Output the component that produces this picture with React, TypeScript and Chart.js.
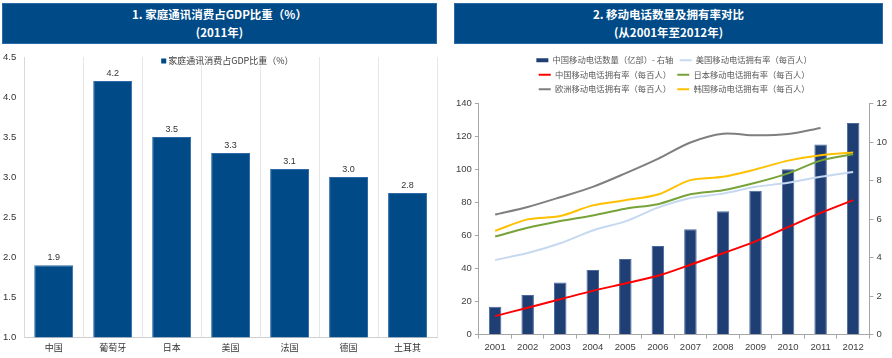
import React, { useEffect, useRef } from "react";
import { Chart, registerables } from "chart.js";

Chart.register(...registerables);

// ---------- Data: chart 1 ----------
const countries = ["中国", "葡萄牙", "日本", "美国", "法国", "德国", "土耳其"];
const commShare = [1.9, 4.2, 3.5, 3.3, 3.1, 3.0, 2.8];
const leftTicks = [1.0, 1.5, 2.0, 2.5, 3.0, 3.5, 4.0, 4.5];
const leftLegend = "家庭通讯消费占GDP比重（%）";

// ---------- Data: chart 2 ----------
const years = ["2001", "2002", "2003", "2004", "2005", "2006", "2007", "2008", "2009", "2010", "2011", "2012"];
const chinaPhones = [1.44, 2.05, 2.7, 3.35, 3.93, 4.6, 5.47, 6.41, 7.47, 8.59, 9.87, 10.99];
const usRate = [45.2, 49.4, 55.3, 63.1, 68.6, 76.9, 82.8, 85.4, 89.5, 92.0, 95.6, 98.5];
const chinaRate = [11.2, 16.3, 21.4, 26.5, 31.0, 35.6, 42.3, 49.3, 56.5, 65.1, 73.7, 81.5];
const japanRate = [59.4, 64.7, 68.8, 72.2, 76.3, 79.0, 85.0, 87.5, 92.0, 97.7, 105.4, 109.3];
const europeRate = [72.7, 77.3, 83.2, 89.5, 97.7, 106.5, 116.4, 121.7, 120.7, 121.5, 125.2, null];
const koreaRate = [62.9, 69.8, 71.8, 78.3, 81.4, 84.9, 93.6, 95.6, 100.1, 105.4, 108.7, 110.3];
const seriesNames = [
  "中国移动电话数量（亿部）- 右轴",
  "美国移动电话拥有率（每百人）",
  "中国移动电话拥有率（每百人）",
  "日本移动电话拥有率（每百人）",
  "欧洲移动电话拥有率（每百人）",
  "韩国移动电话拥有率（每百人）",
];
const leftAxisMax = 140;
const rightAxisMax = 12;

const BLUE = "#004A87";
const NAVY = "#1F3F74";
const CJK = '"Noto Sans CJK SC", "Noto Sans", sans-serif';
const NUM = '"Liberation Sans", Arial, sans-serif';
const NARROW = '"Liberation Sans Narrow", "Arial Narrow", "Liberation Sans", sans-serif';
const seriesColors = [NAVY, "#C6D9F1", "#FF0000", "#77A33A", "#7F7F7F", "#FFC000"];

function LeftChart() {
  const ref = useRef<HTMLCanvasElement>(null);
  useEffect(() => {
    const valueLabels = {
      id: "valueLabels",
      afterDatasetsDraw(chart: any) {
        const ctx = chart.ctx;
        const meta = chart.getDatasetMeta(0);
        ctx.save();
        ctx.font = `9px ${NUM}`;
        ctx.fillStyle = "#333";
        ctx.textAlign = "center";
        ctx.textBaseline = "bottom";
        meta.data.forEach((el: any, i: number) => {
          ctx.fillText(commShare[i].toFixed(1), el.x, el.y - 3);
        });
        ctx.restore();
      },
    };
    const innerLegend = {
      id: "innerLegend",
      afterDraw(chart: any) {
        const ctx = chart.ctx;
        const a = chart.chartArea;
        const x = a.left + 137;
        const y = a.top + 4;
        ctx.save();
        ctx.fillStyle = BLUE;
        ctx.fillRect(x, y - 2.5, 5, 5);
        ctx.font = `9px ${CJK}`;
        ctx.fillStyle = "#404040";
        ctx.textAlign = "left";
        ctx.textBaseline = "middle";
        ctx.fillText(leftLegend, x + 7, y);
        ctx.restore();
      },
    };
    const chart = new Chart(ref.current!, {
      type: "bar",
      data: {
        labels: countries,
        datasets: [
          {
            label: leftLegend,
            data: commShare,
            backgroundColor: BLUE,
            borderColor: "#2F6AA6",
            borderWidth: 1,
            categoryPercentage: 1,
            barPercentage: 0.66,
          },
        ],
      },
      options: {
        responsive: false,
        animation: false,
        layout: { padding: { top: 0, right: 9, left: -5, bottom: 0 } },
        plugins: { legend: { display: false }, tooltip: { enabled: false } },
        scales: {
          x: {
            grid: { display: true, offset: true, drawTicks: false, color: "#E6E6E6" },
            border: { display: true, color: "#D0D0D0" },
            ticks: { font: { family: CJK, size: 9 }, color: "#333", padding: 5 },
          },
          y: {
            min: leftTicks[0],
            max: leftTicks[leftTicks.length - 1],
            afterBuildTicks: (s: any) => {
              s.ticks = leftTicks.map((v) => ({ value: v }));
            },
            afterFit: (s: any) => {
              s.paddingTop = 9;
            },
            ticks: {
              callback: (v: any) => Number(v).toFixed(1),
              font: { family: NUM, size: 9.5 },
              color: "#333",
              padding: 8,
            },
            grid: { display: false, drawTicks: false },
            border: { display: true, color: "#D9D9D9" },
          },
        },
      },
      plugins: [valueLabels, innerLegend],
    });
    return () => chart.destroy();
  }, []);
  return <canvas ref={ref} width={446} height={310} />;
}

function RightChart() {
  const ref = useRef<HTMLCanvasElement>(null);
  useEffect(() => {
    const lineDs = (i: number, data: (number | null)[]) => ({
      type: "line" as const,
      label: seriesNames[i],
      data,
      borderColor: seriesColors[i],
      backgroundColor: seriesColors[i],
      borderWidth: 2,
      pointRadius: 0,
      tension: 0.3,
      yAxisID: "y",
      order: 0,
      spanGaps: false,
    });
    const chart = new Chart(ref.current!, {
      type: "bar",
      data: {
        labels: years,
        datasets: [
          {
            type: "bar",
            label: seriesNames[0],
            data: chinaPhones,
            backgroundColor: NAVY,
            borderColor: "#4A6A9E",
            borderWidth: 1,
            yAxisID: "y1",
            order: 1,
            categoryPercentage: 0.8,
            barPercentage: 0.48,
          } as any,
          lineDs(1, usRate),
          lineDs(2, chinaRate),
          lineDs(3, japanRate),
          lineDs(4, europeRate),
          lineDs(5, koreaRate),
        ],
      },
      options: {
        responsive: false,
        animation: false,
        layout: { padding: { top: 2, right: 2, left: 7, bottom: 2 } },
        plugins: {
          tooltip: { enabled: false },
          legend: {
            position: "top",
            fullSize: false,
            labels: {
              font: { family: CJK, size: 8.3 },
              color: "#595959",
              usePointStyle: true,
              pointStyleWidth: 12,
              padding: 6.2,
              generateLabels: (c: any) => {
                const items = (Chart.defaults.plugins.legend.labels as any).generateLabels(c);
                items.sort((a: any, b: any) => a.datasetIndex - b.datasetIndex);
                return items.map((it: any) => ({
                  ...it,
                  pointStyle: "line",
                  strokeStyle: seriesColors[it.datasetIndex],
                  fillStyle: seriesColors[it.datasetIndex],
                  lineWidth: it.datasetIndex === 0 ? 4 : 2,
                }));
              },
            },
          },
        },
        scales: {
          x: {
            offset: true,
            grid: { display: true, offset: true, drawOnChartArea: false, tickLength: 4, color: "#A6A6A6" },
            border: { display: true, color: "#A6A6A6" },
            ticks: { font: { family: NARROW, size: 9.5 }, color: "#404040", padding: 3 },
          },
          y: {
            position: "left",
            min: 0,
            max: leftAxisMax,
            ticks: { stepSize: 20, font: { family: NARROW, size: 9.5 }, color: "#404040", padding: 3 },
            grid: { display: true, drawOnChartArea: false, tickLength: 4, color: "#A6A6A6" },
            border: { display: true, color: "#A6A6A6" },
          },
          y1: {
            position: "right",
            min: 0,
            max: rightAxisMax,
            ticks: { stepSize: 2, font: { family: NARROW, size: 9.5 }, color: "#404040", padding: 3 },
            grid: { display: true, drawOnChartArea: false, tickLength: 4, color: "#A6A6A6" },
            border: { display: true, color: "#A6A6A6" },
          },
        },
      },
    });
    return () => chart.destroy();
  }, []);
  return <canvas ref={ref} width={446} height={310} />;
}

const titleStyle: React.CSSProperties = {
  position: "absolute",
  top: 3,
  height: 41,
  background: BLUE,
  color: "#fff",
  fontFamily: CJK,
  fontWeight: 700,
  fontSize: 11.5,
  lineHeight: "17.5px",
  textAlign: "center",
  display: "flex",
  flexDirection: "column",
  justifyContent: "center",
  boxSizing: "border-box",
  border: "1px solid #2C6AA5",
};

export default function App() {
  return (
    <div style={{ position: "fixed", left: 0, top: 0, width: 892, height: 358, background: "#fff", overflow: "hidden" }}>
      <div style={{ ...titleStyle, left: 2, width: 435 }}>
        <div>1. 家庭通讯消费占GDP比重（%）</div>
        <div>(2011年)</div>
      </div>
      <div style={{ position: "absolute", left: 0, top: 48, width: 446, height: 310 }}>
        <LeftChart />
      </div>
      <div style={{ ...titleStyle, left: 454, width: 429 }}>
        <div>2. 移动电话数量及拥有率对比</div>
        <div>(从2001年至2012年)</div>
      </div>
      <div style={{ position: "absolute", left: 446, top: 48, width: 446, height: 310 }}>
        <RightChart />
      </div>
    </div>
  );
}
